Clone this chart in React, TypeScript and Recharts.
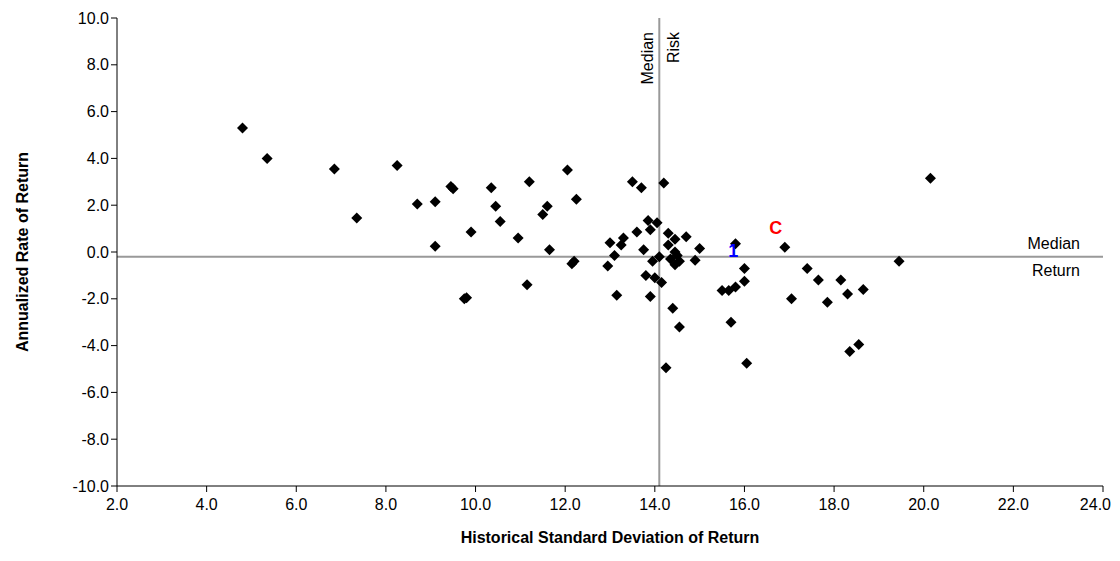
import React from 'react';
import { ScatterChart, Scatter, XAxis, YAxis, ReferenceLine, ReferenceDot, Label } from 'recharts';

const xs = [4.8,5.35,6.85,7.35,8.25,8.7,9.1,9.1,9.45,9.5,9.75,9.8,9.9,10.35,10.45,10.55,10.95,11.15,11.2,11.5,11.6,11.65,12.05,12.15,12.2,12.25,12.95,13.0,13.1,13.15,13.25,13.3,13.5,13.6,13.7,13.75,13.8,13.85,13.9,13.9,13.95,14.0,14.05,14.1,14.15,14.2,14.3,14.3,14.35,14.4,14.25,14.45,14.45,14.5,14.45,14.55,14.55,14.7,14.9,15.0,15.5,15.65,15.7,15.8,15.8,16.0,16.0,16.05,16.9,17.05,17.4,17.65,17.85,18.15,18.3,18.35,18.55,18.65,19.45,20.15];
const ys = [5.3,4.0,3.55,1.45,3.7,2.05,2.15,0.25,2.8,2.7,-2.0,-1.95,0.85,2.75,1.95,1.3,0.6,-1.4,3.0,1.6,1.95,0.1,3.5,-0.5,-0.4,2.25,-0.6,0.4,-0.15,-1.85,0.3,0.6,3.0,0.85,2.75,0.1,-1.0,1.35,0.95,-1.9,-0.4,-1.1,1.25,-0.2,-1.3,2.95,0.8,0.3,-0.3,-2.4,-4.95,0.55,0.0,-0.15,-0.55,-0.4,-3.2,0.65,-0.35,0.15,-1.65,-1.65,-3.0,-1.5,0.35,-0.7,-1.25,-4.75,0.2,-2.0,-0.7,-1.2,-2.15,-1.2,-1.8,-4.25,-3.95,-1.6,-0.4,3.15];
const xTicks = [2,4,6,8,10,12,14,16,18,20,22,24];
const yTicks = [-10,-8,-6,-4,-2,0,2,4,6,8,10];
const medianRisk = 14.1;
const medianReturn = -0.2;
const data = xs.map((x, i) => ({ x, y: ys[i] }));

const font = 'Liberation Sans, Arial, sans-serif';

const Diamond = (props: any) => {
  const { cx, cy } = props;
  const r = 5.5;
  return <path d={`M${cx},${cy - r}L${cx + r},${cy}L${cx},${cy + r}L${cx - r},${cy}Z`} fill="#000" />;
};

const XTick = (props: any) => {
  const { x, y, payload } = props;
  const last = payload.value === xTicks[xTicks.length - 1];
  return (
    <text x={last ? x + 8 : x} y={y + 16} textAnchor={last ? 'end' : 'middle'} fontSize={16} fill="#000" fontFamily={font}>
      {Number(payload.value).toFixed(1)}
    </text>
  );
};

const RiskLabel = (props: any) => {
  const { viewBox } = props;
  const x = viewBox.x;
  const y = viewBox.y + 14;
  return (
    <g fontFamily={font} fontSize={16} fill="#000">
      <text transform={`translate(${x - 6},${y}) rotate(-90)`} textAnchor="end">Median</text>
      <text transform={`translate(${x + 20},${y}) rotate(-90)`} textAnchor="end">Risk</text>
    </g>
  );
};

const ReturnLabel = (props: any) => {
  const { viewBox } = props;
  const x = viewBox.x + viewBox.width - 23;
  const y = viewBox.y;
  return (
    <g fontFamily={font} fontSize={16} fill="#000">
      <text x={x} y={y - 8} textAnchor="end">Median</text>
      <text x={x} y={y + 19} textAnchor="end">Return</text>
    </g>
  );
};

export default function App() {
  return (
    <ScatterChart width={1104} height={545} margin={{ top: 10, right: 9, left: 0, bottom: 20 }} style={{ fontFamily: font }}>
      <XAxis type="number" dataKey="x" domain={[2, 24]} ticks={xTicks}
        stroke="#000" tick={<XTick />} tickSize={6} height={47} interval={0}>
        <Label value="Historical Standard Deviation of Return" position="insideBottom" offset={-10} style={{ fontWeight: 'bold', fontSize: 16, fill: '#000' }} />
      </XAxis>
      <YAxis type="number" dataKey="y" domain={[-10, 10]} ticks={yTicks} tickFormatter={(v: number) => v.toFixed(1)}
        stroke="#000" tick={{ fill: '#000', fontSize: 16 }} tickSize={6} width={109} interval={0}>
        <Label value="Annualized Rate of Return" angle={-90} position="insideLeft" offset={14} style={{ fontWeight: 'bold', fontSize: 16, fill: '#000', textAnchor: 'middle' }} />
      </YAxis>
      <ReferenceLine x={medianRisk} stroke="#999" strokeWidth={2} label={<RiskLabel />} />
      <ReferenceLine y={medianReturn} stroke="#999" strokeWidth={2} label={<ReturnLabel />} />
      <Scatter data={data} fill="#000" shape={<Diamond />} isAnimationActive={false} legendType="none" />
      <ReferenceDot x={15.75} y={0.05} r={0} label={{ value: '1', fill: '#0000ff', fontSize: 18, fontWeight: 'bold' }} />
      <ReferenceDot x={16.7} y={1.05} r={0} label={{ value: 'C', fill: '#ff0000', fontSize: 18, fontWeight: 'bold' }} />
    </ScatterChart>
  );
}
